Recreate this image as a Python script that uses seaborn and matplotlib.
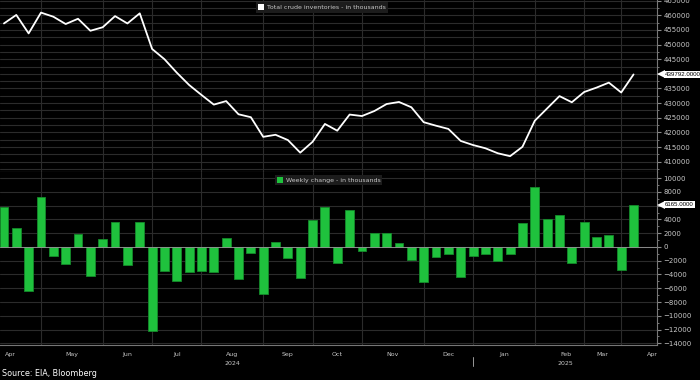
import numpy as np
import pandas as pd
import matplotlib
matplotlib.use('Agg')
import matplotlib.pyplot as plt
import matplotlib.transforms as mtransforms
from matplotlib.patches import Patch
import seaborn as sns

# weekly EIA data, Apr 2024 - Mar 2025 (thousands of barrels)
inventories = [457200, 460100, 453800, 460900, 459500, 457000, 458800, 454700,
               455900, 459700, 457200, 460650, 448500, 445000, 440400, 436200,
               432800, 429500, 430700, 426200, 425200, 418500, 419200, 417400,
               413100, 416800, 422900, 420600, 426100, 425600, 427300, 429700,
               430400, 428600, 423500, 422300, 421200, 417100, 415700, 414600,
               412900, 411900, 415100, 424000, 428200, 432400, 430300, 433800,
               435300, 437000, 433627, 439792]
weekly_change = [5850, 2700, -6400, 7300, -1350, -2500, 1900, -4150,
                 1200, 3700, -2550, 3600, -12200, -3500, -4900, -3700,
                 -3500, -3700, 1350, -4700, -870, -6900, 770, -1640,
                 -4540, 3900, 5750, -2270, 5400, -530, 2100, 2000,
                 580, -1840, -5100, -1400, -970, -4300, -1260, -970,
                 -2000, -1060, 3500, 8700, 4100, 4600, -2400, 3600,
                 1450, 1740, -3400, 6165]
month_starts = [3, 8, 12, 16, 21, 25, 29, 34, 38, 43, 47, 50]
month_labels = ['Apr', 'May', 'Jun', 'Jul', 'Aug', 'Sep', 'Oct', 'Nov', 'Dec',
                'Jan', 'Feb', 'Mar', 'Apr']
month_label_pos = [0.5, 5.5, 10, 14, 18.5, 23, 27, 31.5, 36, 40.5, 45.5, 48.5, 52.5]

df = pd.DataFrame({'week': np.arange(len(inventories)),
                   'inv': inventories, 'chg': weekly_change})

BG = '#000000'
GRID = '#2b2b2b'
TXT = '#c8c8c8'
GREEN = '#1fc13d'

sns.set_theme(style='dark')
plt.rcParams['font.family'] = ['DejaVu Sans']

fig = plt.figure(figsize=(7, 3.8), dpi=100, facecolor=BG)
ax1 = fig.add_axes([0, 1 - 172 / 380, 657 / 700, 172 / 380])
ax2 = fig.add_axes([0, 1 - 345 / 380, 657 / 700, 173 / 380])

for ax in (ax1, ax2):
    ax.set_facecolor(BG)
    ax.set_xlim(-0.32, 52.9)
    ax.yaxis.tick_right()
    ax.set_xticks(month_starts)
    ax.set_xticklabels([])
    ax.tick_params(axis='x', length=0)
    ax.tick_params(axis='y', which='both', colors='#8a8a8a', labelcolor=TXT,
                   labelsize=5, direction='out', pad=1.5)
    ax.tick_params(axis='y', which='major', length=3, width=0.8)
    ax.tick_params(axis='y', which='minor', length=1.5, width=0.6)
    ax.grid(axis='x', color=GRID, linewidth=0.8)
    for s in ('left', 'top'):
        ax.spines[s].set_visible(False)
    ax.spines['right'].set_color('#777777')
    ax.spines['right'].set_linewidth(0.8)
    ax.spines['bottom'].set_color('#777777')
    ax.spines['bottom'].set_linewidth(0.8)

# top panel: inventories
sns.lineplot(data=df, x='week', y='inv', ax=ax1, color='white', linewidth=1.3)
ax1.set_ylim(406500, 465200)
ax1.set_yticks(np.arange(410000, 465001, 5000))
ax1.set_yticks(np.arange(407500, 465001, 2500), minor=True)
ax1.grid(axis='y', which='both', color=GRID, linewidth=0.8)
ax1.set_xlim(-0.32, 52.9)
ax1.set_xlabel('')
ax1.set_ylabel('')
ax1.legend(handles=[Patch(facecolor='white', edgecolor='none',
                          label='Total crude inventories - in thousands')],
           loc='upper center', bbox_to_anchor=(0.49, 1.005), fontsize=4.5,
           frameon=True, facecolor='#1c1c1c', edgecolor='none', labelcolor=TXT,
           handlelength=1.0, handleheight=1.0, handletextpad=0.4,
           borderpad=0.35, fancybox=False, framealpha=1)

# bottom panel: weekly change
sns.barplot(data=df, x='week', y='chg', ax=ax2, color=GREEN, saturation=1,
            width=0.72, edgecolor='#148a2a', linewidth=0.6)
ax2.set_ylim(-14250, 10900)
ax2.set_yticks(np.arange(-14000, 10001, 2000))
ax2.set_yticks(np.arange(-13000, 10001, 1000), minor=True)
ax2.grid(axis='y', which='major', color=GRID, linewidth=0.8)
ax2.axhline(0, color='#9a9a9a', linewidth=0.6, zorder=1.5)
ax2.set_xlim(-0.32, 52.9)
ax2.set_xticks(month_starts)
ax2.set_xticklabels([])
ax2.set_xticks(month_label_pos, minor=True)
ax2.set_xticklabels(month_labels, minor=True)
ax2.tick_params(axis='x', which='both', length=0, labelsize=4.5,
                labelcolor=TXT, pad=5)
ax2.grid(axis='x', which='major', color=GRID, linewidth=0.8)
ax2.grid(axis='x', which='minor', visible=False)
ax2.set_xlabel('')
ax2.set_ylabel('')
ax2.legend(handles=[Patch(facecolor=GREEN, edgecolor='none',
                          label='Weekly change - in thousands')],
           loc='upper center', bbox_to_anchor=(0.5, 1.0), fontsize=4.5,
           frameon=True, facecolor='#1c1c1c', edgecolor='none', labelcolor=TXT,
           handlelength=1.0, handleheight=1.0, handletextpad=0.4,
           borderpad=0.35, fancybox=False, framealpha=1)

# year labels and separator
xt = mtransforms.blended_transform_factory(ax2.transData, ax2.transAxes)
ax2.text(18.5, -0.095, '2024', transform=xt, ha='center', va='top',
         fontsize=4.5, color=TXT)
ax2.text(45.5, -0.095, '2025', transform=xt, ha='center', va='top',
         fontsize=4.5, color=TXT)
ax2.plot([38, 38], [-0.07, -0.12], transform=xt, color='#999999',
         linewidth=0.7, clip_on=False)

# last value tags: white box with a small left-pointing arrow
for ax, val in ((ax1, inventories[-1]), (ax2, weekly_change[-1])):
    t = mtransforms.blended_transform_factory(ax.transAxes, ax.transData)
    ax.plot([1.0065], [val], transform=t, marker='<', markersize=5.5,
            color='white', markeredgewidth=0, clip_on=False, zorder=10)
    ax.text(1.012, val, f'{val:.4f}', transform=t, ha='left', va='center',
            fontsize=4.4, color='black', zorder=11, family='Liberation Sans',
            bbox=dict(boxstyle='square,pad=0.2', fc='white', ec='none'))

fig.text(0.003, 0.005, 'Source: EIA, Bloomberg', fontsize=5.8, color='white',
         ha='left', va='bottom')

fig.savefig('out.png', dpi=100, facecolor=BG)
